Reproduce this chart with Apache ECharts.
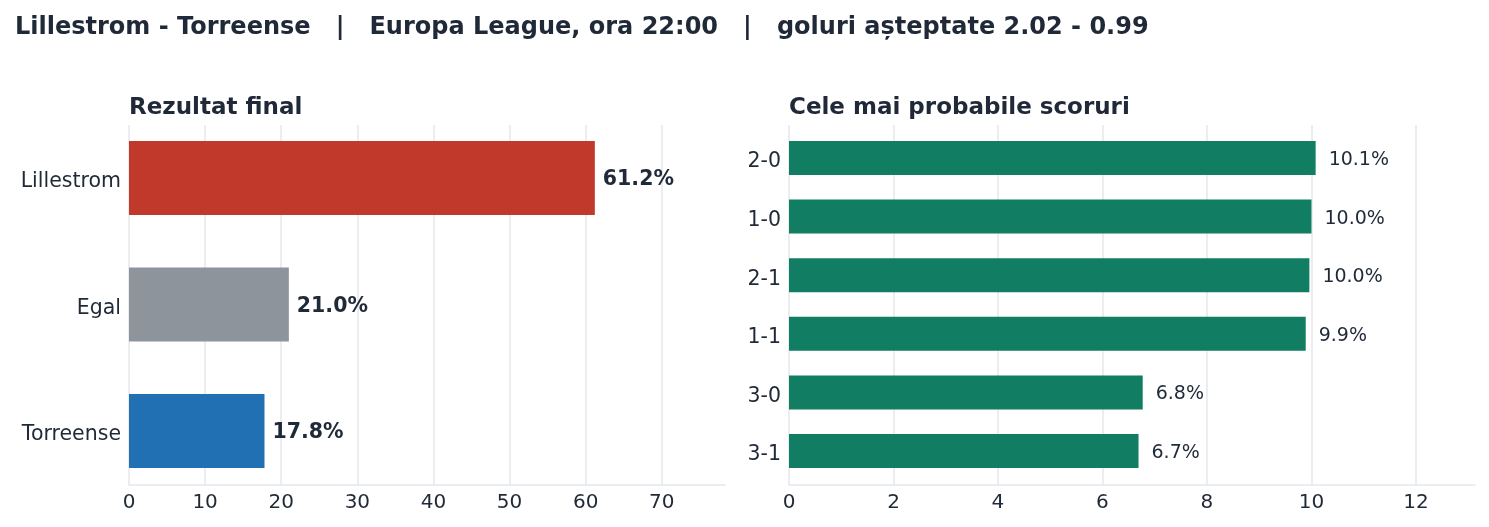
<!DOCTYPE html>
<html>
<head>
<meta charset="utf-8">
<script src="https://cdn.jsdelivr.net/npm/echarts@6/dist/echarts.min.js"></script>
<style>
html,body{margin:0;padding:0;background:#fff;}
#c{width:1489px;height:527px;}
</style>
</head>
<body>
<div id="c"></div>
<script>
const mainTitle = 'Lillestrom - Torreense   |   Europa League, ora 22:00   |   goluri așteptate 2.02 - 0.99';
const leftTitle = 'Rezultat final';
const rightTitle = 'Cele mai probabile scoruri';
const outcomes = ['Lillestrom', 'Egal', 'Torreense'];
const outcomeValues = [61.2, 21.0, 17.8];
const outcomeColors = ['#c0392b', '#8d949b', '#2170b3'];
const scores = ['2-0', '1-0', '2-1', '1-1', '3-0', '3-1'];
const scoreValues = [10.08, 10.0, 9.96, 9.89, 6.77, 6.69];
const scoreColor = '#117e63';

const txt = '#1f2937';
const gridCol = '#e5e7eb';
const font = 'DejaVu Sans';

const chart = echarts.init(document.getElementById('c'), null, {renderer: 'canvas'});

function valueAxis(grid, max, interval, show) {
  if (!show) return {gridIndex: grid, type: 'value', min: 0, max: max, show: false};
  return {
    gridIndex: grid, type: 'value', min: 0, max: max, interval: interval,
    axisLine: {show: true, lineStyle: {color: gridCol, width: 1.5}},
    axisTick: {show: false},
    splitLine: {show: true, showMaxLine: false, lineStyle: {color: gridCol, width: 1.5}},
    axisLabel: {show: true, showMaxLabel: false, color: txt, fontFamily: font, fontSize: 20, margin: 8}
  };
}
function catAxis(grid, data) {
  return {
    gridIndex: grid, type: 'category', data: data, inverse: true,
    axisLine: {show: false}, axisTick: {show: false}, splitLine: {show: false},
    axisLabel: {color: txt, fontFamily: font, fontSize: 20.5, margin: 8, verticalAlign: 'top', lineHeight: 8}
  };
}

chart.setOption({
  backgroundColor: '#ffffff',
  animation: false,
  title: [
    {text: mainTitle, left: 15, top: 15, padding: 0, textStyle: {fontFamily: font, fontSize: 24, fontWeight: 'bold', color: txt, lineHeight: 26}},
    {text: leftTitle, left: 129, top: 96, padding: 0, textStyle: {fontFamily: font, fontSize: 23, fontWeight: 'bold', color: txt, lineHeight: 24}},
    {text: rightTitle, left: 789, top: 96, padding: 0, textStyle: {fontFamily: font, fontSize: 23, fontWeight: 'bold', color: txt, lineHeight: 24}}
  ],
  grid: [
    {left: 129, top: 125, width: 596, height: 360},
    {left: 129, top: 114.75, width: 596, height: 379.5},
    {left: 789, top: 125, width: 686, height: 360},
    {left: 789, top: 128.7, width: 686, height: 351.6}
  ],
  xAxis: [
    valueAxis(0, 78.3, 10, true),
    valueAxis(1, 78.3, 10, false),
    valueAxis(2, 13.13, 2, true),
    valueAxis(3, 13.13, 2, false)
  ],
  yAxis: [
    {gridIndex: 0, type: 'value', show: false},
    catAxis(1, outcomes),
    {gridIndex: 2, type: 'value', show: false},
    catAxis(3, scores)
  ],
  series: [
    {
      type: 'bar', xAxisIndex: 1, yAxisIndex: 1, barWidth: '58.5%',
      data: outcomeValues.map((v, i) => ({value: v, itemStyle: {color: outcomeColors[i]}})),
      label: {show: true, position: 'right', distance: 8, offset: [0, 2], fontFamily: font, fontSize: 20.5, fontWeight: 'bold', color: txt,
        formatter: p => p.value.toFixed(1) + '%'}
    },
    {
      type: 'bar', xAxisIndex: 3, yAxisIndex: 3, barWidth: '58%',
      data: scoreValues, itemStyle: {color: scoreColor},
      label: {show: true, position: 'right', distance: 13, offset: [0, 2], fontFamily: font, fontSize: 19, color: txt,
        formatter: p => p.value.toFixed(1) + '%'}
    }
  ]
});
</script>
</body>
</html>
